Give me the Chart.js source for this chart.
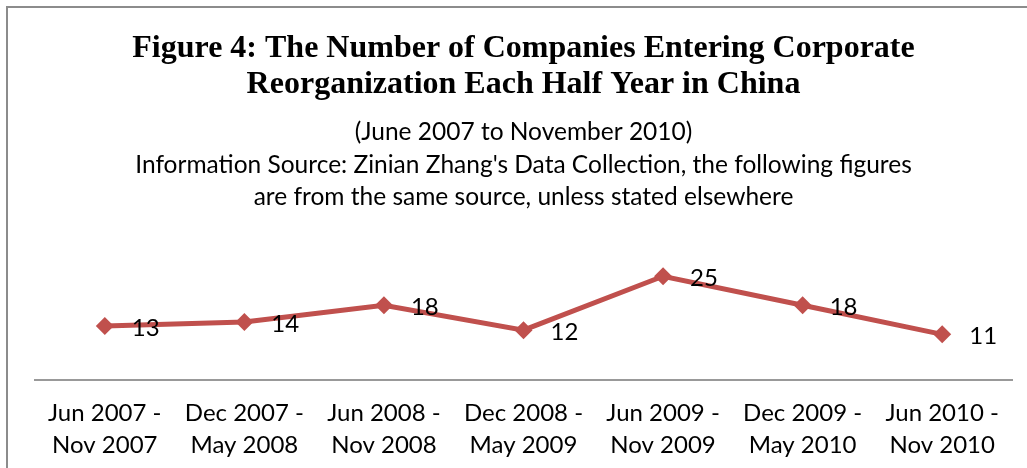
<!DOCTYPE html>
<html>
<head>
<meta charset="utf-8">
<script src="https://cdn.jsdelivr.net/npm/chart.js@4/dist/chart.umd.min.js"></script>
<style>
  html, body { margin: 0; padding: 0; background: #fff; }
  body { width: 1027px; height: 468px; position: relative; overflow: hidden; }
  #frame {
    position: absolute; left: 6px; top: 6px; width: 1100px; height: 600px;
    border: 2px solid #8c8c8c; box-sizing: border-box;
  }
  #wrap { position: absolute; left: 0; top: 0; width: 1027px; height: 468px; }
</style>
</head>
<body>
<div id="frame"></div>
<div id="wrap"><canvas id="chart"></canvas></div>
<script>
const periods = [
  ['Jun 2007 -', 'Nov 2007'],
  ['Dec 2007 -', 'May 2008'],
  ['Jun 2008 -', 'Nov 2008'],
  ['Dec 2008 -', 'May 2009'],
  ['Jun 2009 -', 'Nov 2009'],
  ['Dec 2009 -', 'May 2010'],
  ['Jun 2010 -', 'Nov 2010']
];
const companies = [13, 14, 18, 12, 25, 18, 11];

const titleLines = [
  'Figure 4: The Number of Companies Entering Corporate',
  'Reorganization Each Half Year in China'
];
const subtitleLines = [
  '(June 2007 to November 2010)',
  "Information Source: Zinian Zhang's Data Collection, the following figures",
  'are from the same source, unless stated elsewhere'
];

const bodyFont = 'Lato, "Open Sans", sans-serif';

// value labels to the right of each marker, like Excel's "Right" position
const valueLabels = {
  id: 'valueLabels',
  afterDatasetsDraw(chart) {
    const ctx = chart.ctx;
    const meta = chart.getDatasetMeta(0);
    ctx.save();
    ctx.font = '24px ' + bodyFont;
    ctx.fillStyle = '#000';
    ctx.textAlign = 'left';
    ctx.textBaseline = 'middle';
    meta.data.forEach((pt, i) => {
      ctx.fillText(String(companies[i]), pt.x + 27, pt.y + 2);
    });
    ctx.restore();
  }
};

function createChart() {
  const ctx = document.getElementById('chart').getContext('2d');
  new Chart(ctx, {
    type: 'line',
    data: {
      labels: periods,
      datasets: [{
        label: 'Companies',
        data: companies,
        borderColor: '#C0504D',
        backgroundColor: '#C0504D',
        borderWidth: 5,
        pointStyle: 'rectRot',
        pointRadius: 9,
        pointBorderWidth: 0,
        tension: 0,
        fill: false
      }]
    },
    options: {
      responsive: true,
      maintainAspectRatio: false,
      animation: false,
      layout: { padding: { left: 35, right: 15, top: 0, bottom: 8 } },
      plugins: {
        legend: { display: false },
        tooltip: { enabled: false },
        title: {
          display: true,
          text: titleLines,
          color: '#000',
          font: { family: '"Liberation Serif", "Times New Roman", serif', size: 32, weight: 'bold', lineHeight: 35.5 / 32 },
          padding: { top: 31, bottom: 14 }
        },
        subtitle: {
          display: true,
          text: subtitleLines,
          color: '#000',
          font: { family: bodyFont, size: 24.5, lineHeight: 32.5 / 24.5 },
          padding: { top: 0, bottom: 42 }
        }
      },
      scales: {
        x: {
          offset: true,
          grid: { display: false, drawTicks: false },
          border: { display: true, color: '#999', width: 2 },
          afterFit(scale) { scale.height = 80; },
          ticks: {
            color: '#000',
            padding: 18,
            maxRotation: 0,
            autoSkip: false,
            font: { family: bodyFont, size: 24, lineHeight: 31.5 / 24 }
          }
        },
        y: {
          display: false,
          min: 0,
          max: 30
        }
      }
    },
    plugins: [valueLabels]
  });
}

document.addEventListener('DOMContentLoaded', createChart);
</script>
</body>
</html>
